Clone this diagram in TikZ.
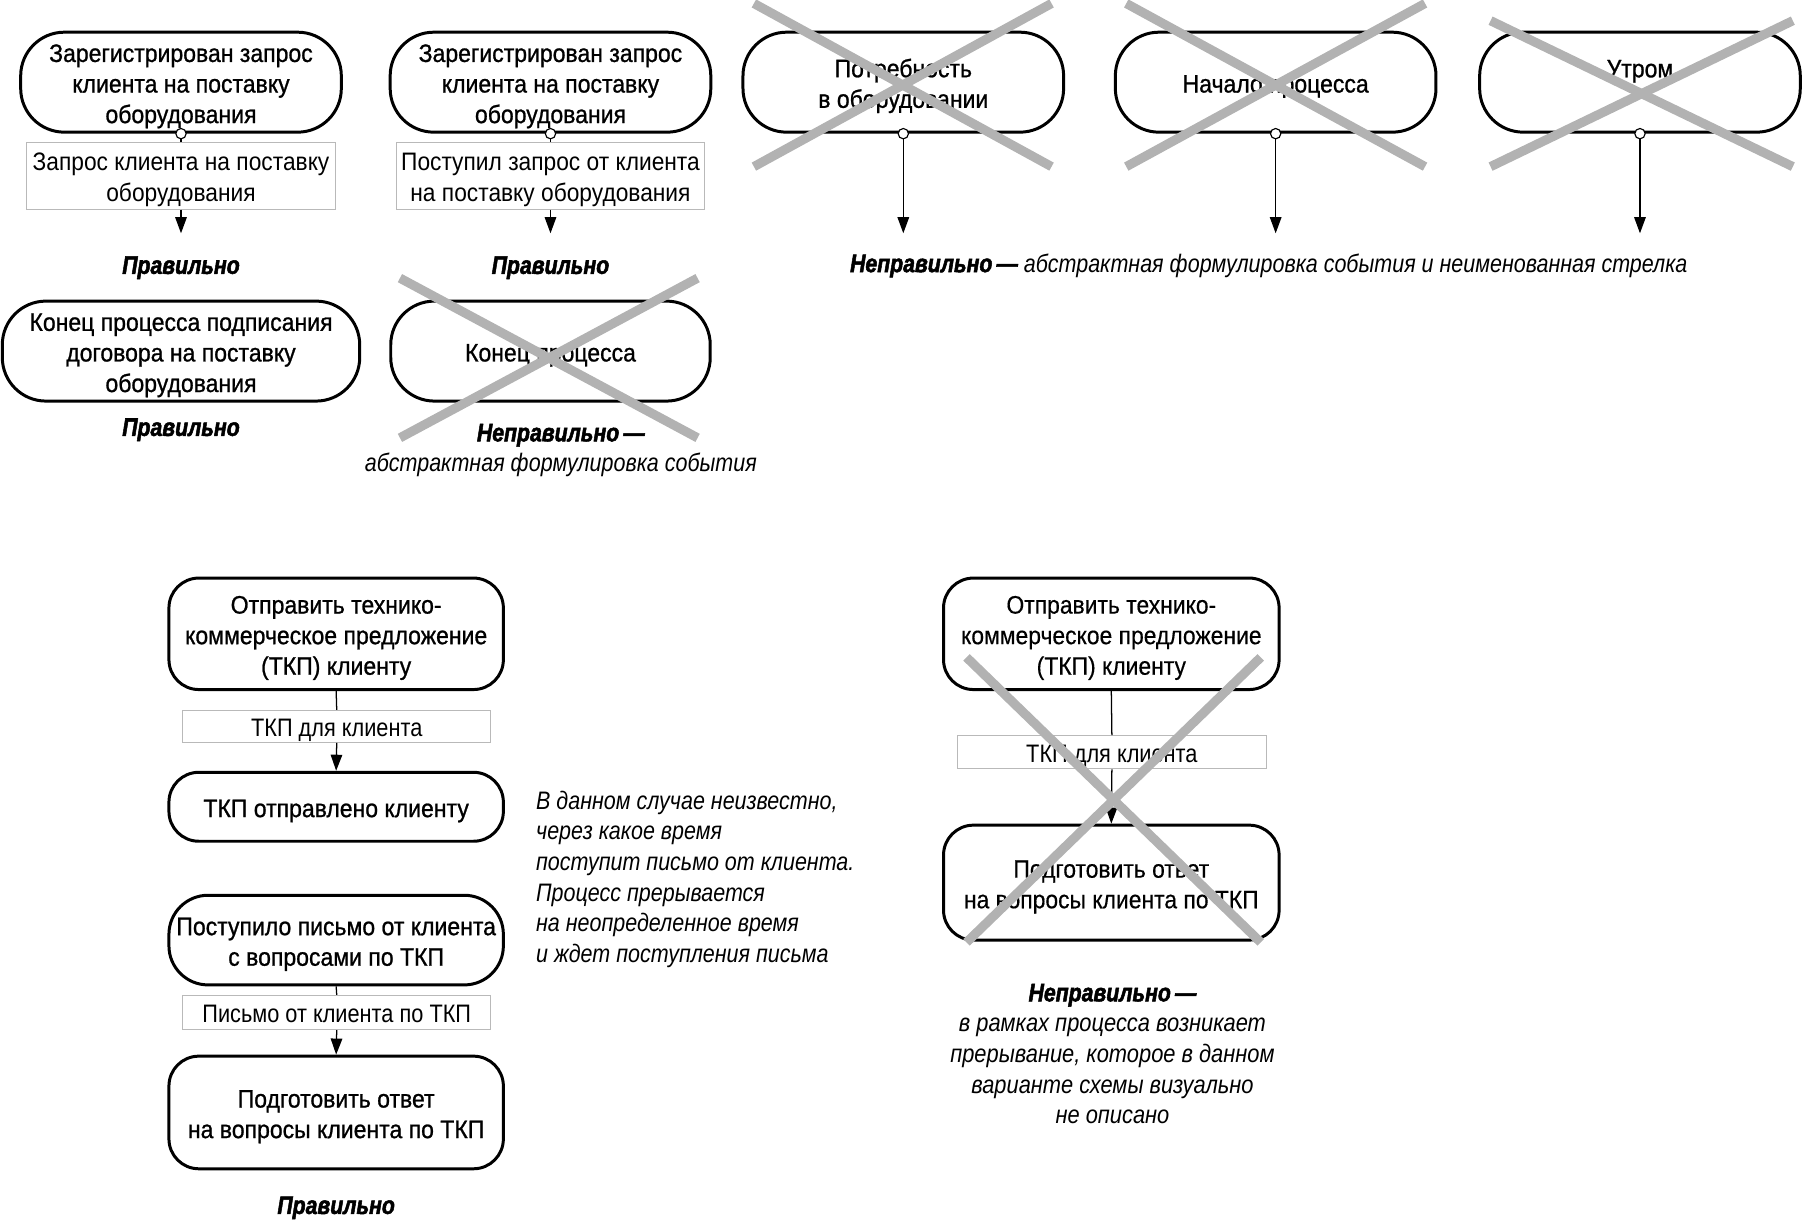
\documentclass[tikz,border=0pt]{standalone}
\usepackage{fontspec}
\setmainfont{Liberation Sans}[FakeStretch=0.85]
\newfontfamily\boxfont{Liberation Sans}[FakeStretch=0.91, FakeBold=0.9]
\newfontfamily\rboxfont{Liberation Sans}[FakeStretch=0.905, FakeBold=0.4]
\newfontfamily\labfont{Liberation Sans}[FakeStretch=0.9]
\newfontfamily\labfontb{Liberation Sans}[FakeStretch=0.86]
\newfontfamily\rnotefont{Liberation Sans}[FakeStretch=0.865]
\newfontfamily\heavyfont{Liberation Sans}[FakeStretch=0.84, BoldItalicFeatures={FakeBold=2}]
\newcommand\mytopstrut{\rule{0pt}{23pt}}
\newcommand\mybotstrut{\rule[-5pt]{0pt}{5pt}}
\newcommand\TS{\mytopstrut}
\newcommand\BS{\mybotstrut}
\usetikzlibrary{arrows.meta}
\begin{document}
\begin{tikzpicture}[x=1pt,y=-1pt,
 font=\fontsize{22}{26.6}\selectfont,
 strutted/.style={execute at begin node=\mytopstrut, execute at end node=\mybotstrut},
 evt/.style={draw, line width=2.6pt, rounded corners=38pt, minimum width=279pt, minimum height=87pt, align=center, inner sep=0pt, strutted, font=\boxfont\fontsize{22}{26.6}\selectfont},
 act/.style={draw, line width=2.6pt, rounded corners=26pt, minimum width=291pt, align=center, inner sep=0pt, strutted, font=\boxfont\fontsize{22}{26.6}\selectfont},
 lab/.style={draw=gray!55, line width=0.8pt, fill=white, align=center, inner sep=0pt, strutted, font=\labfont\fontsize{22}{26.6}\selectfont},
 labb/.style={lab, font=\labfontb\fontsize{22}{26.6}\selectfont},
 flow/.style={line width=1.1pt, -{Triangle[width=10pt,length=14pt]}},
 link/.style={line width=1.1pt},
 cross/.style={line width=8pt, color=gray!60},
 ok/.style={font=\heavyfont\fontsize{22}{26.6}\selectfont\bfseries\itshape},
 note/.style={font=\fontsize{22}{26.6}\selectfont\itshape},
 dot/.style={circle, draw, fill=white, line width=1pt, inner sep=0pt, minimum size=9pt}
]
\useasboundingbox (0,0) rectangle (1568,1063);

% ---------- top left ----------
\node[evt] (b1) at (157.5,71.5) {\TS Зарегистрирован запрос\\клиента на поставку\\оборудования\BS};
\node[lab, minimum width=269pt, minimum height=58pt] (l1) at (157.5,153) {\TS Запрос клиента на поставку\\оборудования\BS};
\coordinate (t1) at (157.5,203);
\draw[link] (b1.south) -- (l1.north);
\draw[flow] (l1.south) -- (t1);
\node[dot] (d1) at (b1.south) {};
\node[ok] (ok1) at (157.5,233) {Правильно};

\node[evt] (b2) at (479,71.5) {\TS Зарегистрирован запрос\\клиента на поставку\\оборудования\BS};
\node[lab, minimum width=268pt, minimum height=58pt] (l2) at (479,153) {\TS Поступил запрос от клиента\\на поставку оборудования\BS};
\coordinate (t2) at (479,203);
\draw[link] (b2.south) -- (l2.north);
\draw[flow] (l2.south) -- (t2);
\node[dot] (d2) at (b2.south) {};
\node[ok] (ok2) at (479,233) {Правильно};

\node[evt, minimum width=311pt] (b3) at (157.5,305.5) {\TS Конец процесса подписания\\договора на поставку\\оборудования\BS};
\node[ok] (ok3) at (157.5,374) {Правильно};

\node[evt, minimum width=278pt] (b4) at (479,305.5) {Конец процесса};
\node[align=center] (n4) at (488,392) {{\heavyfont\bfseries\itshape Неправильно\,—}\\\itshape абстрактная формулировка события};

% ---------- top right ----------
\node[evt] (b5) at (786,71.5) {\TS Потребность\\в оборудовании\BS};
\node[evt] (b6) at (1110,71.5) {Начало процесса};
\node[evt] (b7) at (1427,71.5) {};
\node[font=\boxfont\fontsize{22}{26.6}\selectfont] (b7t) at (1427,62) {Утром};
\coordinate (t5) at (786,203);
\coordinate (t6) at (1110,203);
\coordinate (t7) at (1427,203);
\draw[flow] (b5.south) -- (t5);
\draw[flow] (b6.south) -- (t6);
\draw[flow] (b7.south) -- (t7);
\node[dot] (d5) at (b5.south) {};
\node[dot] (d6) at (b6.south) {};
\node[dot] (d7) at (b7.south) {};
\node (n5) at (1104,231) {{\heavyfont\bfseries\itshape Неправильно\,—}\ \itshape абстрактная формулировка события и неименованная стрелка};

% ---------- bottom left ----------
\node[act, minimum height=97pt] (ba) at (292.5,551.5) {\TS Отправить технико-\\коммерческое предложение\\(ТКП) клиенту\BS};
\node[labb, minimum width=268pt, minimum height=28pt] (la) at (293,632) {ТКП для клиента};
\node[act, minimum height=60pt] (bb) at (292.5,702) {ТКП отправлено клиенту};
\node[act, rounded corners=34pt, minimum height=78pt] (bc) at (292.5,818) {\TS Поступило письмо от клиента\\с вопросами по ТКП\BS};
\node[labb, minimum width=268pt, minimum height=30pt] (lc) at (293,881) {Письмо от клиента по ТКП};
\node[act, minimum height=98pt] (bd) at (292.5,968) {\TS Подготовить ответ\\на вопросы клиента по ТКП\BS};
\draw[link] (ba.south) -- (la.north);
\draw[flow] (la.south) -- (bb.north);
\draw[link] (bc.south) -- (lc.north);
\draw[flow] (lc.south) -- (bd.north);
\node[ok] (ok4) at (292.5,1051) {Правильно};
\node[note, align=left, anchor=west] (n6) at (463,765) {В данном случае неизвестно,\\через какое время\\поступит письмо от клиента.\\Процесс прерывается\\на неопределенное время\\и ждет поступления письма};

% ---------- bottom right ----------
\node[act, minimum width=292pt, minimum height=97pt, font=\rboxfont\fontsize{22}{26.6}\selectfont] (be) at (967,551.5) {\TS Отправить технико-\\коммерческое предложение\\(ТКП) клиенту\BS};
\node[labb, minimum width=269pt, minimum height=29pt] (le) at (967.5,654.5) {ТКП для клиента};
\node[act, minimum width=292pt, minimum height=100pt, font=\rboxfont\fontsize{22}{26.6}\selectfont] (bf) at (967,768) {\TS Подготовить ответ\\на вопросы клиента по ТКП\BS};
\draw[link] (be.south) -- (le.north);
\draw[flow] (le.south) -- (bf.north);
\node[align=center, font=\rnotefont\fontsize{22}{26.6}\selectfont\itshape] (n7) at (968,917) {{\heavyfont\bfseries Неправильно\,—}\\в рамках процесса возникает\\прерывание, которое в данном\\варианте схемы визуально\\не описано};

% ---------- crosses ----------
\draw[cross] (348,242) -- (607,381);
\draw[cross] (607,242) -- (348,381);
\draw[cross] (656,3) -- (915,145);
\draw[cross] (915,3) -- (656,145);
\draw[cross] (980,3) -- (1240,145);
\draw[cross] (1240,3) -- (980,145);
\draw[cross] (1297,18) -- (1560,145);
\draw[cross] (1560,18) -- (1297,145);
\draw[cross] (841,572) -- (1097,820);
\draw[cross] (1097,572) -- (841,820);
\end{tikzpicture}
\end{document}
